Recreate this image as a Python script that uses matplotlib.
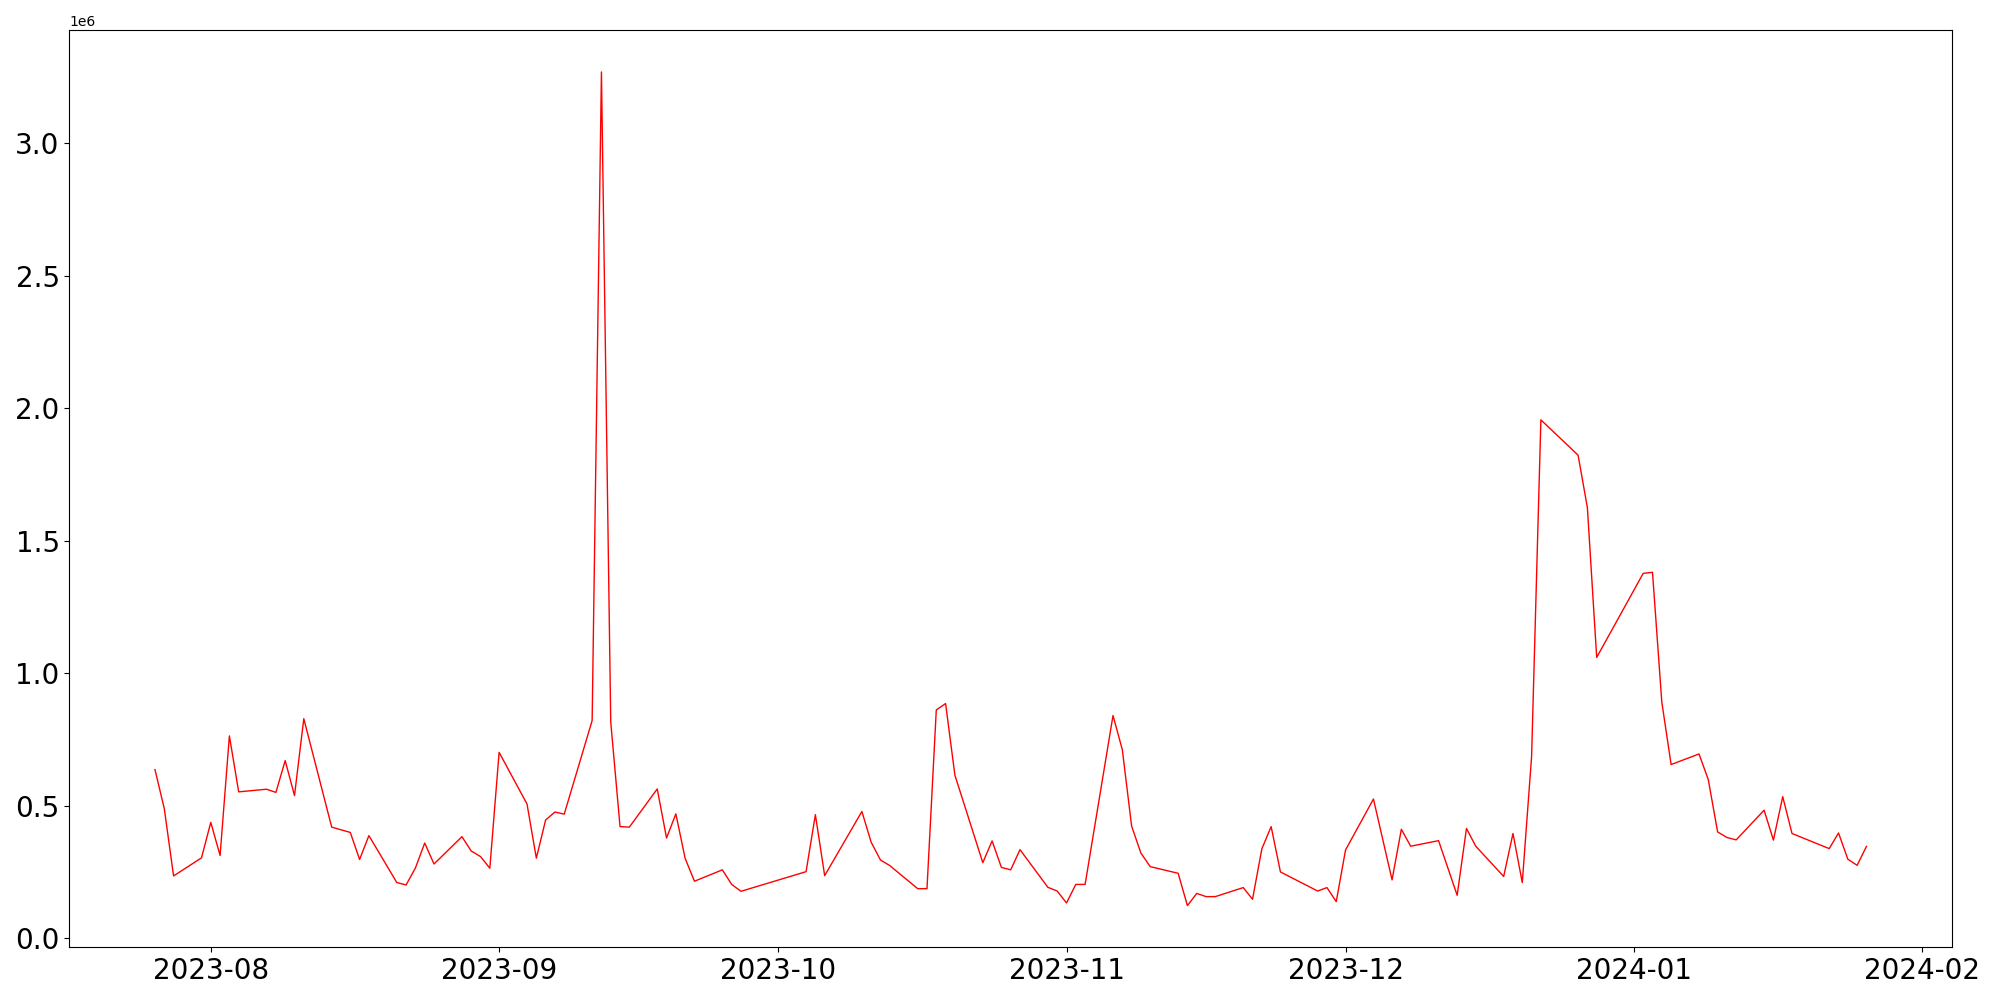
import matplotlib
matplotlib.use("Agg")
import matplotlib.pyplot as plt
import pandas as pd

# trading days (KRX calendar) and daily values
dates = [
    "2023-07-26", "2023-07-27", "2023-07-28", "2023-07-31",
    "2023-08-01", "2023-08-02", "2023-08-03", "2023-08-04",
    "2023-08-07", "2023-08-08", "2023-08-09", "2023-08-10", "2023-08-11",
    "2023-08-14", "2023-08-16", "2023-08-17", "2023-08-18",
    "2023-08-21", "2023-08-22", "2023-08-23", "2023-08-24", "2023-08-25",
    "2023-08-28", "2023-08-29", "2023-08-30", "2023-08-31", "2023-09-01",
    "2023-09-04", "2023-09-05", "2023-09-06", "2023-09-07", "2023-09-08",
    "2023-09-11", "2023-09-12", "2023-09-13", "2023-09-14", "2023-09-15",
    "2023-09-18", "2023-09-19", "2023-09-20", "2023-09-21", "2023-09-22",
    "2023-09-25", "2023-09-26", "2023-09-27",
    "2023-10-04", "2023-10-05", "2023-10-06",
    "2023-10-10", "2023-10-11", "2023-10-12", "2023-10-13",
    "2023-10-16", "2023-10-17", "2023-10-18", "2023-10-19", "2023-10-20",
    "2023-10-23", "2023-10-24", "2023-10-25", "2023-10-26", "2023-10-27",
    "2023-10-30", "2023-10-31", "2023-11-01", "2023-11-02", "2023-11-03",
    "2023-11-06", "2023-11-07", "2023-11-08", "2023-11-09", "2023-11-10",
    "2023-11-13", "2023-11-14", "2023-11-15", "2023-11-16", "2023-11-17",
    "2023-11-20", "2023-11-21", "2023-11-22", "2023-11-23", "2023-11-24",
    "2023-11-28", "2023-11-29", "2023-11-30", "2023-12-01",
    "2023-12-04", "2023-12-06", "2023-12-07", "2023-12-08",
    "2023-12-11", "2023-12-13", "2023-12-14", "2023-12-15",
    "2023-12-18", "2023-12-19", "2023-12-20", "2023-12-21", "2023-12-22",
    "2023-12-26", "2023-12-27", "2023-12-28",
    "2024-01-02", "2024-01-03", "2024-01-04", "2024-01-05",
    "2024-01-08", "2024-01-09", "2024-01-10", "2024-01-11", "2024-01-12",
    "2024-01-15", "2024-01-16", "2024-01-17", "2024-01-18",
    "2024-01-22", "2024-01-23", "2024-01-24", "2024-01-25", "2024-01-26",
]

values_m = [
    0.637, 0.490, 0.236, 0.304,
    0.438, 0.313, 0.764, 0.553,
    0.563, 0.551, 0.671, 0.539, 0.829,
    0.420, 0.400, 0.298, 0.388,
    0.211, 0.202, 0.266, 0.360, 0.281,
    0.384, 0.330, 0.309, 0.265, 0.702,
    0.507, 0.303, 0.447, 0.477, 0.469,
    0.822, 3.268, 0.816, 0.422, 0.420,
    0.564, 0.379, 0.470, 0.302, 0.216,
    0.259, 0.204, 0.178,
    0.252, 0.467, 0.237,
    0.479, 0.363, 0.296, 0.275,
    0.188, 0.188, 0.862, 0.886, 0.616,
    0.286, 0.368, 0.268, 0.259, 0.335,
    0.193, 0.179, 0.134, 0.204, 0.204,
    0.841, 0.712, 0.424, 0.322, 0.271,
    0.246, 0.124, 0.170, 0.158, 0.158,
    0.192, 0.148, 0.338, 0.422, 0.251,
    0.179, 0.192, 0.139, 0.334,
    0.526, 0.221, 0.412, 0.348,
    0.369, 0.163, 0.415, 0.348,
    0.234, 0.396, 0.211, 0.685, 1.956,
    1.823, 1.625, 1.060,
    1.377, 1.381, 0.892, 0.656,
    0.696, 0.599, 0.402, 0.381, 0.372,
    0.484, 0.371, 0.535, 0.396,
    0.339, 0.398, 0.299, 0.276, 0.347,
]

x = pd.to_datetime(dates)
y = [v * 1e6 for v in values_m]

fig, ax = plt.subplots(figsize=(20, 10), dpi=100)
ax.plot(x, y, color="red", linewidth=1)
ax.tick_params(axis="both", labelsize=20)

fig.subplots_adjust(left=0.0347, right=0.976, bottom=0.0527, top=0.9697)
fig.savefig("out.png", dpi=100)
plt.close(fig)
